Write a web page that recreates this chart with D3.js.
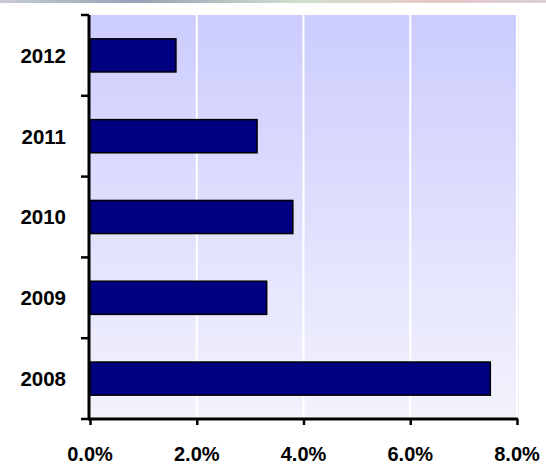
<!DOCTYPE html>
<html>
<head>
<meta charset="utf-8">
<script src="https://cdn.jsdelivr.net/npm/d3@7"></script>
<style>
  body { margin: 0; background: #fff; }
  text { font-family: "Liberation Sans", Arial, sans-serif; font-weight: bold; }
</style>
</head>
<body>
<div id="chart"></div>
<script>
// Chart size and margins
const WIDTH = 546;
const HEIGHT = 466;
const MARGIN = { top: 15, right: 29, bottom: 47, left: 90 };

// Data
const years = ["2012", "2011", "2010", "2009", "2008"];
const growth = [1.61, 3.13, 3.8, 3.31, 7.5];
const xTicks = [0, 2, 4, 6, 8];

const innerW = WIDTH - MARGIN.left - MARGIN.right;
const innerH = HEIGHT - MARGIN.top - MARGIN.bottom;

var svg = d3.select("#chart")
  .append("svg")
  .attr("width", WIDTH)
  .attr("height", HEIGHT);

var defs = svg.append("defs");

// background of the plot, lavender fading to near white
var bg = defs.append("linearGradient")
  .attr("id", "plotBg")
  .attr("x1", 0).attr("y1", 0).attr("x2", 0).attr("y2", 1);
bg.append("stop").attr("offset", "0%").attr("stop-color", "#ccccfe");
bg.append("stop").attr("offset", "100%").attr("stop-color", "#f3f3fd");

// thin coloured strip along the top edge
var strip = defs.append("linearGradient")
  .attr("id", "topStrip")
  .attr("x1", 0).attr("y1", 0).attr("x2", 1).attr("y2", 0);
strip.append("stop").attr("offset", "0%").attr("stop-color", "#c8ccd8");
strip.append("stop").attr("offset", "25%").attr("stop-color", "#9aa0b4");
strip.append("stop").attr("offset", "55%").attr("stop-color", "#cfe0cf");
strip.append("stop").attr("offset", "80%").attr("stop-color", "#e8c8c8");
strip.append("stop").attr("offset", "100%").attr("stop-color", "#d8d0d8");

svg.append("rect")
  .attr("x", 0).attr("y", 0)
  .attr("width", WIDTH).attr("height", 3)
  .attr("fill", "url(#topStrip)");

var g = svg.append("g")
  .attr("transform", "translate(" + MARGIN.left + "," + MARGIN.top + ")");

// scales
var x = d3.scaleLinear().domain([0, 8]).range([0, innerW]);
var y = d3.scaleBand().domain(years).range([0, innerH]).paddingInner(0.59).paddingOuter(0.295);
var yEdges = d3.scaleBand().domain(years).range([0, innerH]);

g.append("rect")
  .attr("width", innerW)
  .attr("height", innerH)
  .attr("fill", "url(#plotBg)");

// faint border on the right side of the plot
g.append("line")
  .attr("x1", innerW + 1.5).attr("x2", innerW + 1.5)
  .attr("y1", 0).attr("y2", innerH)
  .attr("stroke", "#eeeeff").attr("stroke-width", 1);

// white vertical gridlines
g.append("g")
  .selectAll("line")
  .data(xTicks.slice(1))
  .join("line")
  .attr("x1", (d) => x(d))
  .attr("x2", (d) => x(d))
  .attr("y1", 0)
  .attr("y2", innerH)
  .attr("stroke", "#fff")
  .attr("stroke-width", 2);

// bars
g.append("g")
  .selectAll("rect")
  .data(years)
  .join("rect")
  .attr("x", 0)
  .attr("y", (d) => y(d))
  .attr("width", (d, i) => x(growth[i]))
  .attr("height", y.bandwidth())
  .attr("fill", "#000080")
  .attr("stroke", "#000")
  .attr("stroke-width", 1.5);

// y axis with ticks at band boundaries
var yAxis = g.append("g");
yAxis.append("line")
  .attr("x1", -1).attr("x2", -1)
  .attr("y1", 0).attr("y2", innerH + 1)
  .attr("stroke", "#000").attr("stroke-width", 3);
yAxis.selectAll(".edge")
  .data(years.concat(["end"]))
  .join("line")
  .attr("class", "edge")
  .attr("x1", -9).attr("x2", -1)
  .attr("y1", (d, i) => i < years.length ? yEdges(d) : innerH)
  .attr("y2", (d, i) => i < years.length ? yEdges(d) : innerH)
  .attr("stroke", "#000").attr("stroke-width", 2.5);
yAxis.selectAll("text")
  .data(years)
  .join("text")
  .attr("x", -24)
  .attr("y", (d) => y(d) + y.bandwidth() / 2)
  .attr("dy", "0.36em")
  .attr("text-anchor", "end")
  .attr("font-size", 20.5)
  .text((d) => d);

// x axis
var xAxis = g.append("g")
  .attr("transform", `translate(0,${innerH})`)
  .call(d3.axisBottom(x).tickValues(xTicks).tickFormat("").tickSize(6))
  .call((a) => a.select(".domain").attr("stroke-width", 3).attr("d", `M-2,0H${innerW + 1}`))
  .call((a) => a.selectAll(".tick line").attr("stroke-width", 2.5));

xAxis.selectAll(".xlabel")
  .data(xTicks)
  .join("text")
  .attr("class", "xlabel")
  .attr("x", (d) => x(d))
  .attr("y", 42)
  .attr("text-anchor", "middle")
  .attr("font-size", 20)
  .attr("fill", "#000")
  .text((d) => d3.format(".1f")(d) + "%");
</script>
</body>
</html>
